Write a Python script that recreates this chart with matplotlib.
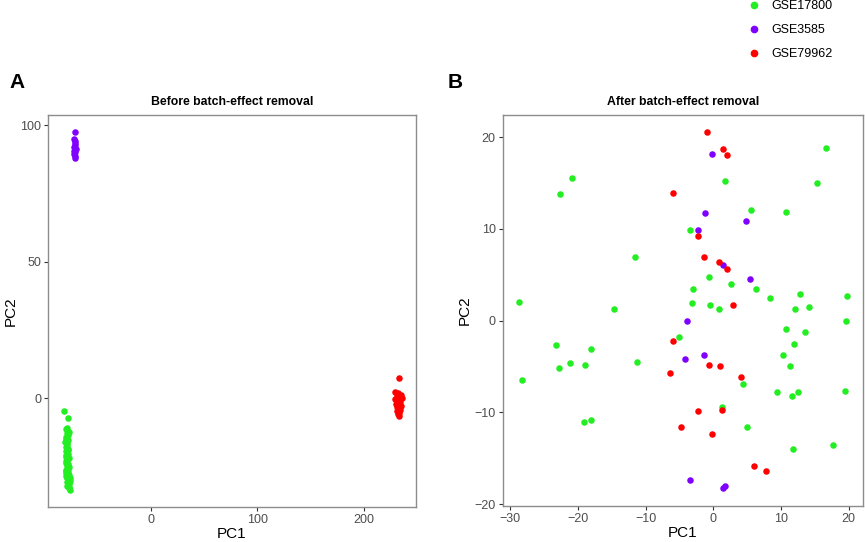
import numpy as np
import matplotlib.pyplot as plt
from matplotlib.lines import Line2D

plt.rcParams['font.family'] = ['Liberation Sans', 'DejaVu Sans']

groups = ['GSE17800', 'GSE3585', 'GSE79962']
colors = ['#22EE22', '#7F00FF', '#FF0000']

# Panel A: before batch-effect removal
before_green_x = [-81.8, -78.6, -79.2, -80.0, -77.4, -79.0, -78.2, -80.3, -79.6, -78.0,
                  -80.8, -78.8, -79.5, -80.5, -77.8, -78.0, -80.2, -79.0, -78.5, -80.0,
                  -79.6, -77.6, -78.9, -80.4, -80.2, -78.2, -79.4, -77.4, -78.6, -80.0,
                  -79.6, -78.1, -79.6, -77.5, -80.3, -78.7, -76.6, -79.2, -77.8, -76.4,
                  -79.0, -78.0, -77.2, -78.0, -79.5, -76.8, -77.6, -76.4]
before_green_y = [-4.8, -7.3, -11.0, -11.4, -12.3, -12.8, -13.5, -14.2, -15.0, -15.4,
                  -16.0, -16.5, -17.2, -18.0, -18.6, -19.0, -19.3, -19.8, -20.4, -21.0,
                  -21.5, -22.0, -22.6, -23.2, -23.9, -24.3, -24.8, -25.3, -25.8, -26.3,
                  -26.8, -27.2, -27.6, -28.0, -28.4, -28.8, -29.1, -29.4, -29.8, -30.2,
                  -30.6, -31.0, -31.4, -31.9, -32.3, -32.7, -33.1, -33.5]
before_purple_x = [-71.8, -72.3, -71.2, -72.0, -71.5, -72.6, -71.0, -72.2, -71.6, -72.4, -71.4, -71.9]
before_purple_y = [97.3, 95.0, 94.2, 93.5, 92.8, 92.0, 91.3, 90.6, 90.0, 89.5, 88.8, 87.8]
before_red_x = [233.5, 230.0, 232.2, 234.8, 231.0, 233.6, 235.8, 229.6, 232.8, 234.2,
                230.8, 233.0, 235.2, 231.6, 232.4, 234.6, 231.8, 233.8, 232.6, 233.2]
before_red_y = [7.4, 2.3, 1.8, 1.2, 0.8, 0.3, 0.0, -0.5, -1.0, -1.5,
                -2.0, -2.5, -3.0, -3.4, -3.8, -4.3, -4.8, -5.4, -6.0, -6.6]

# Panel B: after batch-effect removal
after_green_x = [-28.7, -22.6, -20.8, -14.7, -11.5, -3.5, -3.0, -3.2, -0.6, -0.5,
                 0.8, 1.8, 2.6, 5.6, 6.3, 8.4, 10.7, 12.1, 12.8, 14.2,
                 15.3, 16.7, 19.7, 19.6, -28.3, -23.2, -22.8, -21.1, -18.0, -18.9,
                 -19.1, -18.0, -11.2, -5.0, 4.4, 1.3, 5.0, 10.7, 13.5, 11.9,
                 10.3, 11.3, 9.4, 11.7, 12.6, 19.5, 11.8, 17.7]
after_green_y = [2.0, 13.8, 15.5, 1.3, 6.9, 9.9, 3.4, 1.9, 4.7, 1.7,
                 1.3, 15.2, 4.0, 12.0, 3.4, 2.5, 11.8, 1.3, 2.9, 1.5,
                 15.0, 18.8, 2.7, 0.0, -6.5, -2.7, -5.2, -4.6, -3.1, -4.8,
                 -11.1, -10.8, -4.5, -1.8, -6.9, -9.4, -11.6, -0.9, -1.2, -2.5,
                 -3.7, -5.0, -7.8, -8.2, -7.8, -7.7, -14.0, -13.5]
after_purple_x = [-0.2, -1.2, -2.2, 4.9, 1.4, 5.5, -3.9, -4.2, -1.4, -3.5, 1.4, 1.7]
after_purple_y = [18.2, 11.7, 9.9, 10.9, 6.1, 4.5, 0.0, -4.2, -3.7, -17.4, -18.2, -18.0]
after_red_x = [-0.9, 1.4, 2.0, -5.9, -2.2, -1.4, 0.9, 2.0, 3.0, -5.9,
               -6.4, -0.6, 1.0, 4.1, -2.2, 1.3, -4.8, -0.2, 6.1, 7.8]
after_red_y = [20.5, 18.7, 18.0, 13.9, 9.2, 6.9, 6.4, 5.6, 1.7, -2.2,
               -5.7, -4.8, -5.0, -6.1, -9.9, -9.7, -11.6, -12.3, -15.8, -16.4]

fig = plt.figure(figsize=(8.65, 5.42), dpi=100)
axA = fig.add_axes([0.0555, 0.0651, 0.425, 0.7227])
axB = fig.add_axes([0.5812, 0.0664, 0.4162, 0.7214])


def style(ax, title):
    for sp in ax.spines.values():
        sp.set_color('#8c8c8c')
        sp.set_linewidth(1.0)
    ax.tick_params(direction='out', length=3, width=0.8, color='#333333',
                   labelcolor='#4d4d4d', labelsize=9, pad=2)
    ax.set_xlabel('PC1', fontsize=11, labelpad=1)
    ax.set_ylabel('PC2', fontsize=11, labelpad=2)
    ax.set_title(title, fontsize=8.8, fontweight='bold', pad=7)


s = 22
axA.scatter(before_green_x, before_green_y, s=s, color=colors[0], lw=0)
axA.scatter(before_purple_x, before_purple_y, s=s, color=colors[1], lw=0)
axA.scatter(before_red_x, before_red_y, s=s, color=colors[2], lw=0)
axA.set_xlim(-97, 249)
axA.set_ylim(-39.8, 103.7)
axA.set_xticks([0, 100, 200])
axA.set_yticks([0, 50, 100])
style(axA, 'Before batch-effect removal')

axB.scatter(after_green_x, after_green_y, s=s, color=colors[0], lw=0)
axB.scatter(after_purple_x, after_purple_y, s=s, color=colors[1], lw=0)
axB.scatter(after_red_x, after_red_y, s=s, color=colors[2], lw=0)
axB.set_xlim(-31.1, 22.1)
axB.set_ylim(-20.2, 22.4)
axB.set_xticks([-30, -20, -10, 0, 10, 20])
axB.set_yticks([-20, -10, 0, 10, 20])
style(axB, 'After batch-effect removal')

fig.text(0.011, 0.838, 'A', fontsize=15, fontweight='bold')
fig.text(0.517, 0.838, 'B', fontsize=15, fontweight='bold')

handles = [Line2D([], [], marker='o', ls='', color=c, markersize=4.5) for c in colors]
fig.legend(handles, groups, loc='upper left', bbox_to_anchor=(0.851, 1.02),
           frameon=False, fontsize=9, labelspacing=0.95, handletextpad=0.9,
           handlelength=1.0)

fig.savefig('out.png', dpi=100)
